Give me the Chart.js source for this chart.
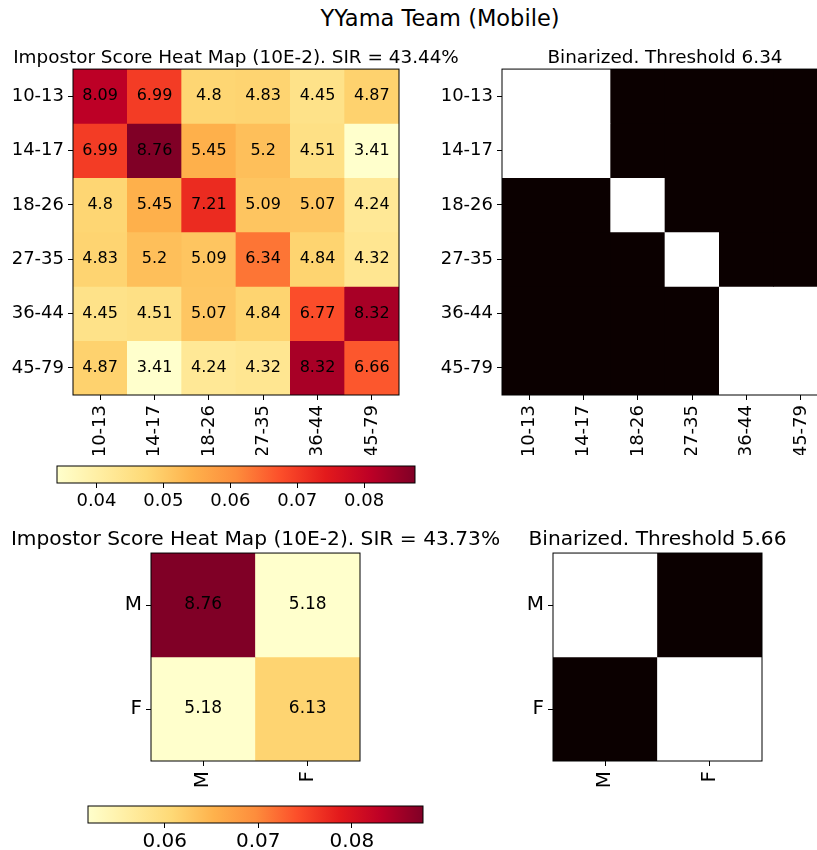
<!DOCTYPE html>
<html>
<head>
<meta charset="utf-8">
<script src="https://cdn.jsdelivr.net/npm/chart.js@4.4.0/dist/chart.umd.min.js"></script>
<style>
  html, body { margin: 0; padding: 0; background: #fff; overflow: hidden; }
  body { width: 817px; height: 850px; position: relative; }
  canvas { position: absolute; }
  #suptitle {
    position: absolute; left: 240px; width: 400px; top: 5px;
    text-align: center; font: 22.5px 'DejaVu Sans'; color: #000;
  }
</style>
</head>
<body>
<div id="suptitle">YYama Team (Mobile)</div>
<canvas id="ageHeat" width="472" height="415" style="left:0;top:40px"></canvas>
<canvas id="ageBinary" width="530" height="415" style="left:400px;top:40px"></canvas>
<canvas id="ageBar" width="400" height="56" style="left:40px;top:456px"></canvas>
<canvas id="genderHeat" width="511" height="281" style="left:0;top:520px"></canvas>
<canvas id="genderBinary" width="511" height="281" style="left:402px;top:520px"></canvas>
<canvas id="genderBar" width="380" height="54" style="left:70px;top:796px"></canvas>
<script>
'use strict';

const ageGroups = ['10-13', '14-17', '18-26', '27-35', '36-44', '45-79'];
const ageScores = [
	[8.09, 6.99, 4.8, 4.83, 4.45, 4.87],
	[6.99, 8.76, 5.45, 5.2, 4.51, 3.41],
	[4.8, 5.45, 7.21, 5.09, 5.07, 4.24],
	[4.83, 5.2, 5.09, 6.34, 4.84, 4.32],
	[4.45, 4.51, 5.07, 4.84, 6.77, 8.32],
	[4.87, 3.41, 4.24, 4.32, 8.32, 6.66],
];
const ageThreshold = 6.34;
const ageTitle = 'Impostor Score Heat Map (10E-2). SIR = 43.44%';
const ageBarTicks = [0.04, 0.05, 0.06, 0.07, 0.08];

const genders = ['M', 'F'];
const genderScores = [
	[8.76, 5.18],
	[5.18, 6.13],
];
const genderThreshold = 5.66;
const genderTitle = 'Impostor Score Heat Map (10E-2). SIR = 43.73%';
const genderBarTicks = [0.06, 0.07, 0.08];

// matplotlib YlOrRd anchors
const ylOrRd = ['#ffffcc', '#ffeda0', '#fed976', '#feb24c', '#fd8d3c', '#fc4e2a', '#e31a1c', '#bd0026', '#800026'];

Chart.defaults.font.family = "'DejaVu Sans', sans-serif";
Chart.defaults.color = '#000';

function hexToRgb(hex) {
	const n = parseInt(hex.slice(1), 16);
	return [(n >> 16) & 255, (n >> 8) & 255, n & 255];
}

function ylOrRdColor(t) {
	t = Math.max(0, Math.min(1, t));
	const pos = t * (ylOrRd.length - 1);
	const i = Math.min(ylOrRd.length - 2, Math.floor(pos));
	const f = pos - i;
	const a = hexToRgb(ylOrRd[i]);
	const b = hexToRgb(ylOrRd[i + 1]);
	const c = a.map((v, k) => Math.round(v + (b[k] - v) * f));
	return `rgb(${c[0]}, ${c[1]}, ${c[2]})`;
}

const framePlugin = {
	id: 'frame',
	afterDraw(chart) {
		const { ctx, chartArea } = chart;
		ctx.save();
		ctx.strokeStyle = '#000';
		ctx.lineWidth = 1;
		ctx.strokeRect(chartArea.left, chartArea.top, chartArea.width, chartArea.height);
		ctx.restore();
	},
};

function cellTextPlugin(scores, size) {
	return {
		id: 'cellText',
		afterDatasetsDraw(chart) {
			const ctx = chart.ctx;
			ctx.save();
			ctx.font = `${size}px 'DejaVu Sans'`;
			ctx.fillStyle = '#000';
			ctx.textAlign = 'center';
			ctx.textBaseline = 'middle';
			scores.forEach((row, i) => {
				chart.getDatasetMeta(i).data.forEach((bar, j) => {
					ctx.fillText(String(row[j]), bar.x, (bar.y + bar.base) / 2);
				});
			});
			ctx.restore();
		},
	};
}

function drawHeatmap(canvasId, labels, scores, title, opts) {
	const flat = scores.flat();
	const lo = Math.min(...flat);
	const hi = Math.max(...flat);
	const colorOf = opts.threshold !== undefined
		? (v) => (v >= opts.threshold ? '#ffffff' : '#0b0000')
		: (v) => ylOrRdColor((v - lo) / (hi - lo));

	const tickGrid = { offset: false, drawOnChartArea: false, tickLength: 5, color: '#000' };
	const plugins = [framePlugin];
	if (opts.cellSize) plugins.push(cellTextPlugin(scores, opts.cellSize));

	new Chart(document.getElementById(canvasId), {
		type: 'bar',
		data: {
			labels: labels,
			datasets: scores.map((row) => ({
				data: row.map(() => 1),
				backgroundColor: row.map(colorOf),
				barPercentage: 1,
				categoryPercentage: 1,
				borderWidth: 0,
			})),
		},
		options: {
			responsive: false,
			animation: false,
			layout: { padding: 0 },
			plugins: {
				legend: { display: false },
				tooltip: { enabled: false },
				title: {
					display: true,
					text: title,
					color: '#000',
					font: { size: opts.titleSize, weight: 'normal' },
					padding: { top: opts.titleTop, bottom: opts.titleBottom },
				},
			},
			scales: {
				x: {
					stacked: true,
					grid: tickGrid,
					border: { display: false },
					ticks: {
						autoSkip: false,
						maxRotation: 90,
						minRotation: 90,
						padding: 5,
						font: { size: opts.tickSize },
					},
					afterFit: (scale) => { scale.height = opts.xAxisHeight; },
				},
				y: {
					type: 'linear',
					stacked: true,
					reverse: true,
					min: 0,
					max: labels.length,
					grid: tickGrid,
					border: { display: false },
					afterBuildTicks: (scale) => {
						scale.ticks = labels.map((_, i) => ({ value: i + 0.5 }));
					},
					ticks: {
						padding: 4,
						font: { size: opts.tickSize },
						callback: (value, index) => labels[index],
					},
					afterFit: (scale) => { scale.width = opts.yAxisWidth; },
				},
				// empty spacer on the right so the title stays centred over the panel
				spacer: {
					type: 'linear',
					position: 'right',
					grid: { display: false },
					ticks: { display: false },
					border: { display: false },
					afterFit: (scale) => { scale.width = opts.padRight; },
				},
			},
		},
		plugins: plugins,
	});
}

function drawColorbar(canvasId, scores, ticks, opts) {
	const flat = scores.flat();
	const lo = Math.min(...flat) / 100;
	const hi = Math.max(...flat) / 100;

	new Chart(document.getElementById(canvasId), {
		type: 'bar',
		data: {
			labels: ['scale'],
			datasets: [{
				data: [[lo, hi]],
				backgroundColor: (ctx) => {
					const area = ctx.chart.chartArea;
					if (!area) return null;
					const g = ctx.chart.ctx.createLinearGradient(area.left, 0, area.right, 0);
					ylOrRd.forEach((c, i) => g.addColorStop(i / (ylOrRd.length - 1), c));
					return g;
				},
				barPercentage: 1,
				categoryPercentage: 1,
				borderWidth: 0,
			}],
		},
		options: {
			indexAxis: 'y',
			responsive: false,
			animation: false,
			layout: { padding: { left: opts.padLeft, right: opts.padRight, top: opts.padTop, bottom: 0 } },
			plugins: { legend: { display: false }, tooltip: { enabled: false } },
			scales: {
				y: { display: false },
				x: {
					type: 'linear',
					min: lo,
					max: hi,
					grid: { drawOnChartArea: false, tickLength: 5, color: '#000' },
					border: { display: false },
					afterBuildTicks: (scale) => {
						scale.ticks = ticks.map((v) => ({ value: v }));
					},
					ticks: {
						padding: opts.tickPad,
						font: { size: opts.tickSize },
						callback: (value) => value.toFixed(2),
					},
					afterFit: (scale) => { scale.height = opts.axisHeight; },
				},
			},
		},
		plugins: [framePlugin],
	});
}

drawHeatmap('ageHeat', ageGroups, ageScores, ageTitle, {
	yAxisWidth: 73, padRight: 73, xAxisHeight: 60,
	titleSize: 18.4, titleTop: 7, titleBottom: 0, tickSize: 18, cellSize: 16,
});
drawHeatmap('ageBinary', ageGroups, ageScores, 'Binarized. Threshold ' + ageThreshold, {
	threshold: ageThreshold,
	yAxisWidth: 102, padRight: 102, xAxisHeight: 60,
	titleSize: 18.4, titleTop: 7, titleBottom: 0, tickSize: 18,
});
drawColorbar('ageBar', ageScores, ageBarTicks, {
	padLeft: 17, padRight: 25, padTop: 10, axisHeight: 29, tickSize: 18, tickPad: 3,
});

drawHeatmap('genderHeat', genders, genderScores, genderTitle, {
	yAxisWidth: 151, padRight: 151, xAxisHeight: 40,
	titleSize: 20.2, titleTop: 8, titleBottom: 0.8, tickSize: 20, cellSize: 17,
});
drawHeatmap('genderBinary', genders, genderScores, 'Binarized. Threshold ' + genderThreshold, {
	threshold: genderThreshold,
	yAxisWidth: 151, padRight: 151, xAxisHeight: 40,
	titleSize: 20.2, titleTop: 8, titleBottom: 0.8, tickSize: 20,
});
drawColorbar('genderBar', genderScores, genderBarTicks, {
	padLeft: 18, padRight: 27, padTop: 10, axisHeight: 27, tickSize: 20, tickPad: 2,
});
</script>
</body>
</html>
